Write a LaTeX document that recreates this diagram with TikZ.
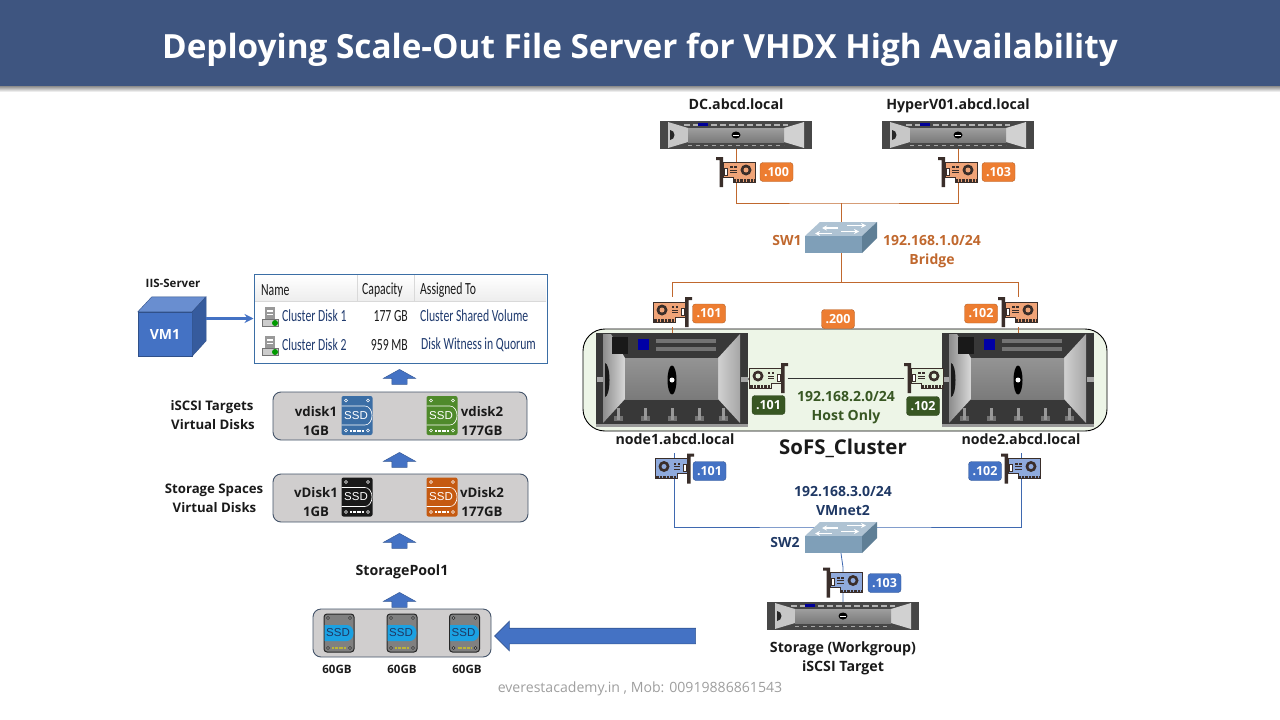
\documentclass[tikz,border=0pt]{standalone}
\usepackage{fontspec}
\setmainfont{Open Sans}
\newfontfamily\tablefont{Carlito}
\newfontfamily\ssdfont{Liberation Sans}
\usetikzlibrary{arrows.meta,backgrounds,shapes.arrows}

\definecolor{titleblue}{HTML}{3E5580}
\definecolor{textdark}{HTML}{1A1A1A}
\definecolor{nicdark}{HTML}{3A2E2A}
\definecolor{nicorange}{HTML}{F0A478}
\definecolor{nicblue}{HTML}{8FAADC}
\definecolor{nicgreen}{HTML}{E2F0D9}
\definecolor{tagorange}{HTML}{ED7D31}
\definecolor{tagblue}{HTML}{4472C4}
\definecolor{taggreen}{HTML}{385723}
\definecolor{lineorange}{HTML}{C0682E}
\definecolor{lineblue}{HTML}{3F69B0}
\definecolor{navytext}{HTML}{1F3864}
\definecolor{clusterfill}{HTML}{EDF5E7}
\definecolor{boxgray}{HTML}{D0CECE}
\definecolor{boxedge}{HTML}{44546A}
\definecolor{tableedge}{HTML}{3B6EA5}
\definecolor{disktext}{HTML}{1F3A6E}
\definecolor{swtop}{HTML}{AFC3D3}
\definecolor{swfront}{HTML}{7F9FB8}
\definecolor{swside}{HTML}{5F7F96}
\definecolor{ssdgreen}{HTML}{4F8A2B}
\definecolor{ssdorange}{HTML}{C55A11}
\definecolor{poolblue}{HTML}{1BA1E2}

\tikzset{
	lbl/.style={inner sep=0, text=textdark, text height=10, text depth=0, font=\fontsize{14.2}{16}\selectfont\bfseries},
	disklbl/.style={inner sep=0, text=textdark, text height=9.4, text depth=0, font=\fontsize{13.2}{15}\selectfont\bfseries},
	midlbl/.style={inner sep=0, text=textdark, text height=9.4, text depth=0, font=\fontsize{13.2}{15}\selectfont\bfseries},
	smalllbl/.style={inner sep=0, text=textdark, text height=8.2, text depth=0, font=\fontsize{11.5}{13}\selectfont\bfseries},
	iplbl/.style={inner sep=0, text=#1, text height=10, text depth=0, font=\fontsize{14}{16}\selectfont\bfseries},
	iptag/.style={rounded corners=3, draw=#1!75!black, fill=#1, text=white, inner sep=0, minimum width=33, minimum height=19, font=\fontsize{12.5}{15}\selectfont\bfseries},
	link/.style={line width=0.8, draw=#1},
	graybox/.style={rounded corners=8, draw=boxedge, fill=boxgray, line width=0.9, inner sep=0},
	uparrow/.style={single arrow, shape border rotate=90, fill=tagblue, draw=tagblue!75!black, line width=0.4, inner xsep=7.5, inner ysep=0, minimum height=15, single arrow head extend=8.5, single arrow tip angle=122},
	tabletext/.style={inner sep=0, anchor=west, text=#1, xscale=0.69, transform shape, font=\tablefont\fontsize{17}{19}\selectfont},
	pics/srv/.style={code={
		\node[inner sep=0, minimum width=152, minimum height=28] (-box) at (0,0) {};
		\fill[black!72] (-76,-14) rectangle (76,14);
		\fill[black!22] (-68,-13) -- (-48,-7) -- (-48,7) -- (-68,13) -- cycle;
		\fill[black!18] (68,-13) -- (48,-7) -- (48,7) -- (68,13) -- cycle;
		\shade[top color=black!38, bottom color=black!52] (-48,-7) rectangle (48,7);
		\fill[black!85] (-66,-5) arc (-90:90:4.5 and 5) -- cycle;
		\fill[black] (0,0) ellipse (4.5 and 3.5);
		\draw[white, line width=0.5] (-3,0) -- (3,0);
		\draw[black!30, line width=1.6, dash pattern=on 6pt off 3pt] (-52,-10) -- (52,-10);
		\draw[black!35, line width=1.6, dash pattern=on 4pt off 4pt] (-48,10.5) -- (48,10.5);
		\fill[blue!60!black] (-38,-12) rectangle (-28,-9);
	}},
	pics/bigsrv/.style={code={
		\node[inner sep=0, minimum width=152, minimum height=94] (-box) at (0,0) {};
		\fill[black!78] (-76,-47) rectangle (76,47);
		\shade[left color=black!45, right color=black!15] (-69,-46) -- (-61,-46) -- (-47,-22) -- (-47,19) -- (-69,43) -- cycle;
		\shade[left color=black!18, right color=black!35] (68,-46) -- (46,-22) -- (46,19) -- (68,43) -- cycle;
		\shade[top color=black!42, bottom color=black!52] (-47,-22) rectangle (46,19);
		\fill[black!90] (-60,-43) rectangle (-44,-26);
		\fill[blue!65!black] (-34,-41) rectangle (-23,-30);
		\fill[black!55] (-16,-41) rectangle (44,-37);
		\fill[black!55] (-16,-33) rectangle (44,-29);
		\fill[black!90] (-67,-17) arc (-90:90:4.5 and 17) -- cycle;
		\fill[black] (0,0) ellipse (4.5 and 14.5);
		\fill[white] (0,0) circle (2.5);
		\fill[black!35] (-75,-3) rectangle (-69,2);
		\fill[black!35] (69,-3) rectangle (76,2);
		\foreach \vx in {-58,-31,-4,23,47} {
			\fill[black!55] (\vx,36) rectangle ++(9,5);
			\fill[black!40] (\vx+3,28) rectangle ++(3,12);
		}
		\fill[black!40] (-76,44) rectangle (76,47);
	}},
	pics/nic/.style={code={
		\node[inner sep=0, minimum width=39, minimum height=30] (-box) at (0,0) {};
		\filldraw[draw=nicdark, fill=#1, line width=0.6] (-13,-10) -- (19,-10) -- (19,10) -- (-3,10) -- (-3,5) -- (-13,5) -- cycle;
		\fill[nicdark] (-20,-15) -- (-13,-15) -- (-13,15) -- (-16.5,15) -- (-16.5,-12) -- (-20,-12) -- cycle;
		\draw[nicdark, fill=white, line width=0.6] (-12,-4) rectangle (-9,3);
		\fill[nicdark] (10,-2) circle (5.5);
		\fill[#1] (10,-2) circle (2.5);
		\fill[nicdark] (-6,-6) rectangle (-3.5,-4);
		\fill[nicdark] (-2,-6) rectangle (0.5,-4);
		\fill[nicdark] (-6,-2.5) rectangle (0.5,-1.5);
		\fill[nicdark] (-6,0) rectangle (0.5,1);
		\draw[nicdark, line width=2.5, dash pattern=on 0.9pt off 0.5pt] (-2,8.5) -- (18,8.5);
	}},
	pics/sw/.style={code={
		\node[inner sep=0, minimum width=72, minimum height=31] (-box) at (0,0) {};
		\fill[swtop] (-36,-1.5) -- (-21,-15.5) -- (36,-15.5) -- (21,-1.5) -- cycle;
		\fill[swfront] (-36,-1.5) rectangle (21,15.5);
		\fill[swside] (21,-1.5) -- (36,-15.5) -- (36,0.5) -- (21,15.5) -- cycle;
		\draw[white, line width=1.6, -{Stealth[length=5, width=5]}] (-3,-9.5) -- (-19,-9.5);
		\draw[white, line width=1.6, -{Stealth[length=5, width=5]}] (6,-12) -- (25,-12);
		\draw[white, line width=1.6, -{Stealth[length=5, width=5]}] (-9,-4) -- (-26,-4);
		\draw[white, line width=1.6, -{Stealth[length=5, width=5]}] (0,-6) -- (18,-6);
	}},
	pics/ssd/.style={code={
		\node[inner sep=0, minimum width=31, minimum height=39] (-box) at (0,0) {};
		\fill[rounded corners=2, #1] (-15.5,-19.5) rectangle (15.5,19.5);
		\draw[white, line width=0.6] (-15.5,-9.5) -- (8,-9.5) arc (-90:90:7 and 9.5) -- (-15.5,9.5);
		\foreach \sx in {-11,11} {
			\draw[white, line width=0.6] (\sx,-15) circle (1.5);
			\draw[white, line width=0.6] (\sx,15) circle (1.5);
		}
		\draw[white, line width=2, dash pattern=on 0.8pt off 0.5pt] (-7,15) -- (7,15);
		\node[inner sep=0, text=white, font=\ssdfont\fontsize{11.5}{13}\selectfont] (-txt) at (-1,0) {SSD};
	}},
	pics/poolssd/.style={code={
		\node[inner sep=0, minimum width=31, minimum height=39] (-box) at (0,0) {};
		\filldraw[rounded corners=3, draw=black!85, fill=black!50, line width=1] (-15,-19) rectangle (15,19);
		\fill[poolblue] (-14.5,-8) -- (8,-8) arc (-90:90:6.5 and 8) -- (-14.5,8) -- cycle;
		\foreach \sx in {-11,11} {
			\filldraw[draw=black!85, fill=black!30] (\sx,-15) circle (1.5);
			\filldraw[draw=black!85, fill=black!30] (\sx,15) circle (1.5);
		}
		\draw[yellow!70!black, line width=2, dash pattern=on 0.8pt off 0.5pt] (-7,15) -- (7,15);
		\node[inner sep=0, text=navytext, font=\ssdfont\fontsize{11.5}{13}\selectfont] (-txt) at (-1,0) {SSD};
	}},
	pics/diskicon/.style={code={
		\fill[black!40] (-5,-11) rectangle (5,1);
		\fill[white] (-3,-8) rectangle (3,-6);
		\fill[white] (-3,-4.5) rectangle (3,-3);
		\filldraw[draw=black!55, fill=black!20] (-8,1) rectangle (8,8);
		\fill[green!60!black] (5,5) circle (3);
	}}
}

\begin{document}
\begin{tikzpicture}[x=1pt, y=-1pt]
		\useasboundingbox (0,0) rectangle (1280,720);

		\shade[top color=black!45, bottom color=white] (0,86) rectangle (1280,92);
		\fill[titleblue] (0,0) rectangle (1280,86);
		\node[inner sep=0, text=white, text height=24, text depth=0, font=\fontsize{33.3}{38}\selectfont\bfseries] (title) at (640,46) {Deploying Scale-Out File Server for VHDX High Availability};

		\begin{scope}[on background layer]
			\node[rounded corners=22, draw=black, fill=clusterfill, line width=0.9, inner sep=0, minimum width=524, minimum height=102] (cluster) at (845,380) {};
		\end{scope}

		\pic (dc) at (736,135) {srv};
		\pic (hv) at (958,135) {srv};
		\pic (st) at (843,616) {srv};
		\pic (nodea) at (672,380) {bigsrv};
		\pic (nodeb) at (1018,380) {bigsrv};

		\pic (dcnic) at (736,172) {nic=nicorange};
		\pic (hvnic) at (958,172) {nic=nicorange};
		\pic[xscale=-1] (anic) at (672,312) {nic=nicorange};
		\pic (bnic) at (1018,312) {nic=nicorange};
		\pic[xscale=-1] (agreen) at (768,378) {nic=nicgreen};
		\pic (bgreen) at (924,378) {nic=nicgreen};
		\pic[xscale=-1] (ablue) at (674,468.5) {nic=nicblue};
		\pic (bblue) at (1021,468.5) {nic=nicblue};
		\pic (stnic) at (843,582.5) {nic=nicblue};

		\pic (swa) at (841,237.5) {sw};
		\pic (swb) at (841,537.5) {sw};

		\coordinate (busa) at (841,203);
		\coordinate (busb) at (841,282);
		\coordinate (busc) at (843,527);

		\begin{scope}[on background layer]
			\draw[link=lineorange] (dc-box) |- (busa) -| (hv-box);
			\draw[link=lineorange] (busa) -- (swa-box.north);
			\draw[link=lineorange] (swa-box.south) -- (busb);
			\draw[link=lineorange] (busb) -| (anic-box) -- (anic-box |- nodea-box.north);
			\draw[link=lineorange] (busb) -| (bnic-box) -- (bnic-box |- nodeb-box.north);
			\draw[link=black!80] (nodea-box.east) -- (agreen-box.west);
			\draw[link=black!80] (agreen-box.east) -- (bgreen-box.west);
			\draw[link=black!80] (bgreen-box.east) -- (nodeb-box.west);
			\draw[link=lineblue] (ablue-box.north) |- (busc) -| (bblue-box.north);
			\draw[link=lineblue] (swb-box.south) -- (stnic-box.north) -- (st-box.north);
		\end{scope}

		\node[iptag=tagorange] (tagdc) at (776.5,172) {.100};
		\node[iptag=tagorange] (taghv) at (998.5,172) {.103};
		\node[iptag=tagorange] (taga) at (709,313.5) {.101};
		\node[iptag=tagorange] (tagb) at (981,313.5) {.102};
		\node[iptag=tagorange] (tagvip) at (838,319) {.200};
		\node[iptag=taggreen] (tagagreen) at (768.5,405) {.101};
		\node[iptag=taggreen] (tagbgreen) at (923,406) {.102};
		\node[iptag=tagblue] (tagablue) at (709.5,471) {.101};
		\node[iptag=tagblue] (tagbblue) at (985,471) {.102};
		\node[iptag=tagblue] (tagst) at (884.5,583) {.103};

		\node[lbl] (dcname) at (736,104) {DC.abcd.local};
		\node[lbl] (hvname) at (958,104) {HyperV01.abcd.local};
		\node[iplbl=lineorange] (swaname) at (787,240) {SW1};
		\node[iplbl=lineorange] (netaip) at (932,240) {192.168.1.0/24};
		\node[iplbl=lineorange] (netaname) at (932,259) {Bridge};
		\node[iplbl=taggreen] (netbip) at (846,396) {192.168.2.0/24};
		\node[iplbl=taggreen] (netbname) at (846,415) {Host Only};
		\node[lbl] (nodeaname) at (675,439) {node1.abcd.local};
		\node[lbl] (nodebname) at (1021,439) {node2.abcd.local};
		\node[inner sep=0, text=textdark, text height=14.5, text depth=0, font=\fontsize{20.4}{23}\selectfont\bfseries] (clustername) at (843,447) {SoFS\_Cluster};
		\node[iplbl=navytext] (netcip) at (843,491) {192.168.3.0/24};
		\node[iplbl=navytext] (netcname) at (843,510) {VMnet2};
		\node[iplbl=navytext] (swbname) at (785,542) {SW2};
		\node[lbl] (stname) at (843,647) {Storage (Workgroup)};
		\node[lbl] (sttarget) at (843,666) {iSCSI Target};

		\node[smalllbl] (iisname) at (173,283) {IIS-Server};
		\node[inner sep=0, fill=tagblue, draw=tagblue!70!black, minimum width=54, minimum height=44, text=white, font=\fontsize{14}{16}\selectfont\bfseries] (vm) at (165,334) {VM1};
		\filldraw[fill=tagblue!80!white, draw=tagblue!70!black] (vm.north west) -- ++(14,-15) -- ++(54,0) -- (vm.north east) -- cycle;
		\filldraw[fill=tagblue!80!black, draw=tagblue!70!black] (vm.north east) -- ++(14,-15) -- ++(0,44) -- (vm.south east) -- cycle;
		\coordinate (vmside) at (206,318.5);

		\node[draw=tableedge, fill=white, line width=1, inner sep=0, minimum width=293, minimum height=89] (disktable) at (400.5,318.5) {};
		\shade[top color=white, bottom color=black!7] (255,275) rectangle (546,301);
		\draw[black!15] (255,301) -- (546,301);
		\draw[black!15] (357,275) -- (357,301);
		\draw[black!15] (414,275) -- (414,301);
		\draw[link=tagblue, line width=2.4, -{Stealth[length=9, width=9]}] (vmside) -- (vmside -| disktable.west);

		\node[tabletext=textdark] (hname) at (261,290) {Name};
		\node[tabletext=textdark] (hcap) at (362,290) {Capacity};
		\node[tabletext=textdark] (hasg) at (420,290) {Assigned To};
		\pic (iconone) at (270,318) {diskicon};
		\pic (icontwo) at (270,347) {diskicon};
		\node[tabletext=disktext] (diskone) at (282,316) {Cluster Disk 1};
		\node[tabletext=disktext] (disktwo) at (282,345) {Cluster Disk 2};
		\node[tabletext=textdark, anchor=east] (capone) at (408,316) {177 GB};
		\node[tabletext=textdark, anchor=east] (captwo) at (408,345) {959 MB};
		\node[tabletext=disktext] (asgone) at (420,316) {Cluster Shared Volume};
		\node[tabletext=disktext] (asgtwo) at (421,345) {Disk Witness in Quorum};

		\node[uparrow] (arrowd) at (399.5,379) {};

		\node[graybox, minimum width=254, minimum height=48] (targetbox) at (400,416) {};
		\node[midlbl] (targeta) at (212,406) {iSCSI Targets};
		\node[midlbl] (targetb) at (213,425) {Virtual Disks};
		\node[disklbl] (vdaname) at (316,412) {vdisk1};
		\node[disklbl] (vdasize) at (316,431) {1GB};
		\pic (vdassd) at (357,415.5) {ssd=tableedge};
		\pic (vdbssd) at (442,415.5) {ssd=ssdgreen};
		\node[disklbl] (vdbname) at (482,412) {vdisk2};
		\node[disklbl] (vdbsize) at (482,431) {177GB};

		\node[uparrow] (arrowc) at (399.5,462) {};

		\node[graybox, minimum width=255, minimum height=48] (spacebox) at (400.5,498) {};
		\node[midlbl] (spacea) at (214,489) {Storage Spaces};
		\node[midlbl] (spaceb) at (214.5,508) {Virtual Disks};
		\node[disklbl] (sdaname) at (316,493) {vDisk1};
		\node[disklbl] (sdasize) at (316,512) {1GB};
		\pic (sdassd) at (357,497) {ssd=black!90};
		\pic (sdbssd) at (442,497) {ssd=ssdorange};
		\node[disklbl] (sdbname) at (482,493) {vDisk2};
		\node[disklbl] (sdbsize) at (482,512) {177GB};

		\node[uparrow] (arrowb) at (399.5,543) {};
		\node[lbl] (poolname) at (402,570) {StoragePool1};
		\node[uparrow] (arrowa) at (399.5,602) {};

		\node[graybox, minimum width=178, minimum height=48] (poolbox) at (402,633) {};
		\pic (poola) at (339,633) {poolssd};
		\pic (poolb) at (402,633) {poolssd};
		\pic (poolc) at (464.5,633) {poolssd};
		\node[smalllbl] (poolasize) at (337,669) {60GB};
		\node[smalllbl] (poolbsize) at (402,669) {60GB};
		\node[smalllbl] (poolcsize) at (467,669) {60GB};

		\node[single arrow, shape border rotate=180, fill=tagblue, draw=tagblue!75!black, line width=0.6, inner ysep=7.5, inner xsep=0, minimum height=201, single arrow head extend=7] (bigarrow) at (599,636) {};

		\node[inner sep=0, text=black!38, font=\fontsize{14.1}{16}\selectfont] (footer) at (640,689) {everestacademy.in , Mob: 00919886861543};
\end{tikzpicture}
\end{document}
